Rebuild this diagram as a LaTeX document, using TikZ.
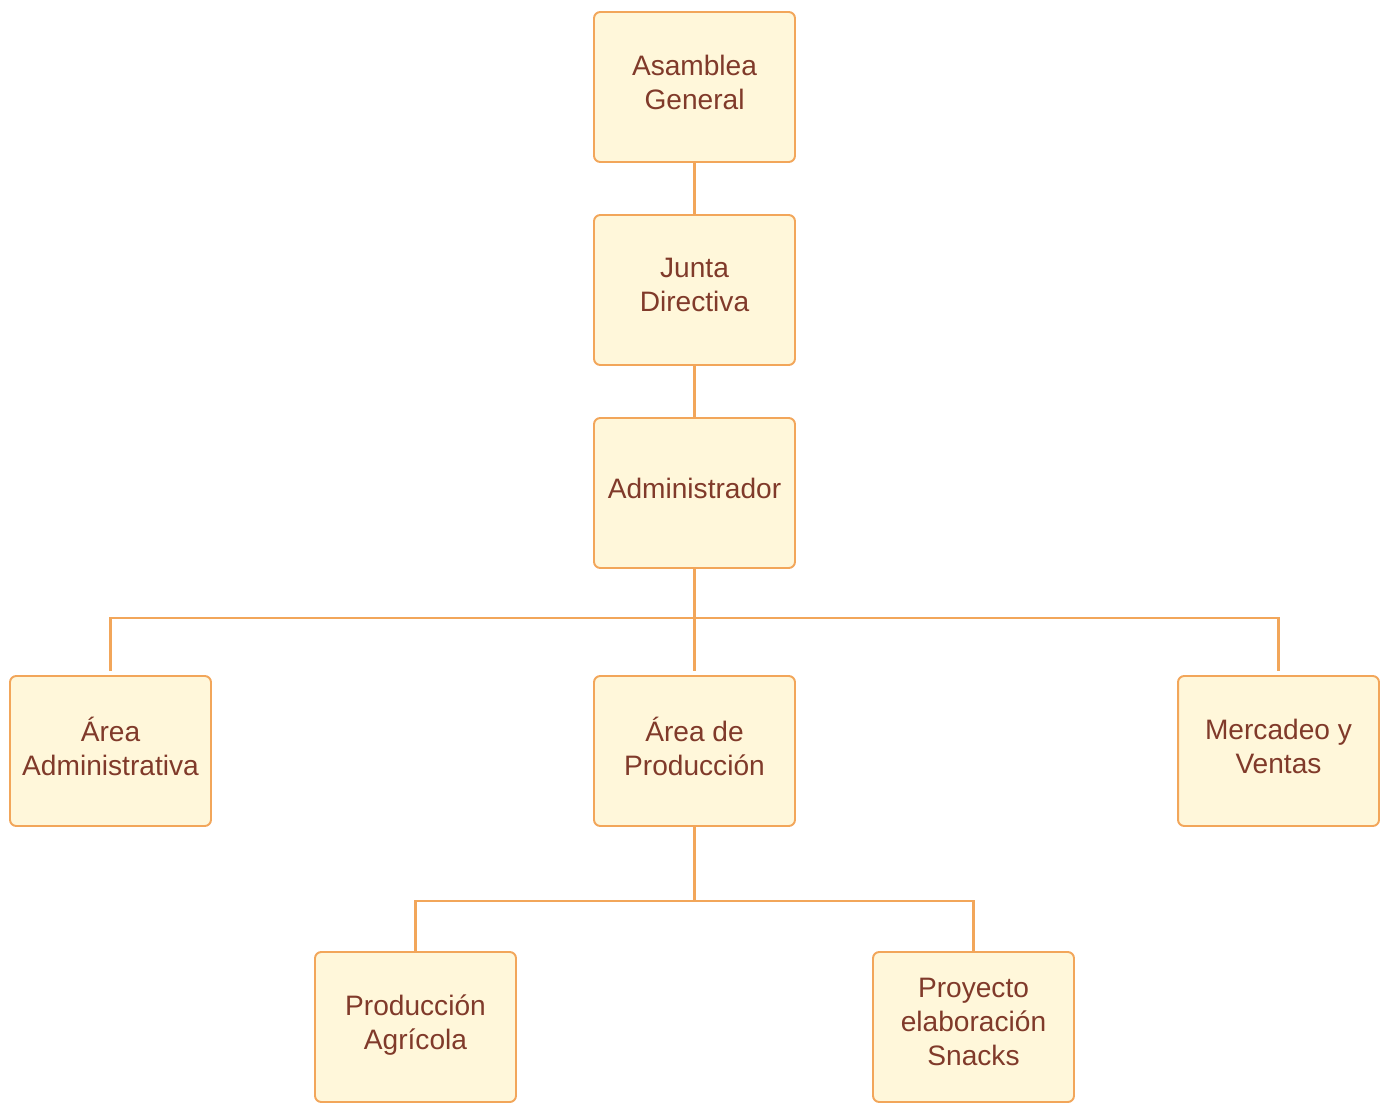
\documentclass[tikz,border=0pt]{standalone}
\usepackage{fontspec}
\setmainfont{Liberation Sans}
\usepackage{tikz}
\usetikzlibrary{calc,positioning}
\definecolor{boxfill}{RGB}{255,247,218}
\definecolor{boxline}{RGB}{242,166,90}
\definecolor{boxtext}{RGB}{128,58,42}

\begin{document}
\begin{tikzpicture}[x=0.02cm,y=-0.02cm,
  unit/.style={draw=boxline,fill=boxfill,line width=1.1pt,rounded corners=3.5pt,
    minimum width=4.02cm,minimum height=3.0cm,align=center,text=boxtext,
    font=\fontsize{16}{19.3}\selectfont,inner sep=2pt,
    execute at end node={\rule[-5.6pt]{0pt}{0pt}}},
  link/.style={draw=boxline,line width=1.35pt}]
  \useasboundingbox (0,0) rectangle (1382,1105);
  % upper chain
  \node[unit] (asamblea) at (694.5,87) {Asamblea\\General};
  \node[unit] (junta) at (694.5,290) {Junta\\Directiva};
  \node[unit] (admin) at (694.5,493) {Administrador};
  % areas
  \node[unit] (areaadm) at (110.5,751) {Área\\Administrativa};
  \node[unit] (areaprod) at (694.5,751) {Área de\\Producción};
  \node[unit] (mercadeo) at (1278.5,751) {Mercadeo y\\Ventas};
  % production
  \node[unit] (agricola) at (415.5,1027) {Producción\\Agrícola};
  \node[unit] (snacks) at (973.5,1027) {Proyecto\\elaboración\\Snacks};
  \draw[link] (asamblea) -- (junta);
  \draw[link] (junta) -- (admin);
  \coordinate (bus) at (694.5,618);
  \draw[link] (admin) -- (bus);
  \draw[link,shorten >=2.5pt] (bus) -| (areaadm);
  \draw[link,shorten >=2.5pt] (bus) -| (mercadeo);
  \draw[link,shorten >=2.5pt] (bus) -- (areaprod);
  \coordinate (split) at (694.5,901);
  \draw[link] (areaprod) -- (split);
  \draw[link] (split) -| (agricola);
  \draw[link] (split) -| (snacks);
\end{tikzpicture}
\end{document}
